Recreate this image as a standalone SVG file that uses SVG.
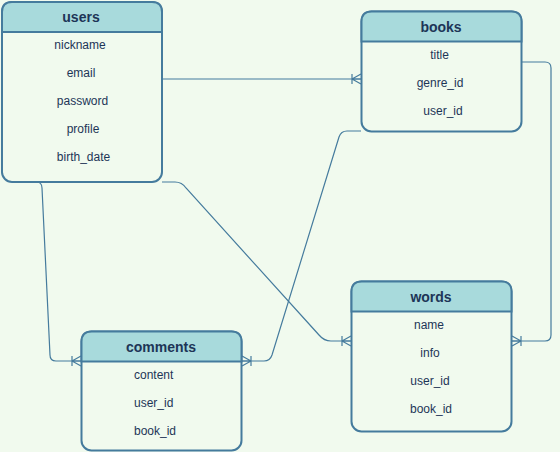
<svg xmlns="http://www.w3.org/2000/svg" width="560" height="452" viewBox="0 0 560 452">
<style>
.bg{fill:#F1FAEE}
.box{fill:#F1FAEE;stroke:#457B9D;stroke-width:2}
.hdr{fill:#A8DADC;stroke:#457B9D;stroke-width:2}
.t{font-family:"Liberation Sans",Arial,sans-serif;font-size:12px;fill:#1D3557}
.h{font-family:"Liberation Sans",Arial,sans-serif;font-size:14px;font-weight:bold;fill:#1D3557;text-anchor:middle}
.c{text-anchor:middle}
.e{fill:none;stroke:#457B9D;stroke-width:1.2}
</style>
<defs>
<marker id="many" markerUnits="userSpaceOnUse" markerWidth="14" markerHeight="14" refX="12" refY="7" orient="auto" viewBox="0 0 14 14">
<path d="M3 7 L12 2 M3 7 L12 12 M3 7 L12 7 M3 2 L3 12" fill="none" stroke="#457B9D" stroke-width="1.2"/>
</marker>
</defs>
<rect class="bg" x="0" y="0" width="560" height="452"/>
<g id="connectors">
<path class="e" d="M162 79 L361 79" marker-end="url(#many)"/>
<path class="e" d="M32 182 L36 182 Q42 182 42 188 L50 355 Q50 361 56 361 L81 361" marker-end="url(#many)"/>
<path class="e" d="M162 182 L175 182 Q182 182 186 188 L319 335 Q324 341 331 341 L351 341" marker-end="url(#many)"/>
<path class="e" d="M361 131 L347 131 Q341 131 339 137 L272 355 Q270 361 264 361 L242 361" marker-end="url(#many)"/>
<path class="e" d="M522 62 L545 62 Q551 62 551 68 L551 335 Q551 341 545 341 L512 341" marker-end="url(#many)"/>
</g>
<g id="users">
<rect class="box" x="2" y="2" width="160" height="180" rx="10"/>
<path class="hdr" d="M2 32 L2 12 Q2 2 12 2 L152 2 Q162 2 162 12 L162 32 Z"/>
<text class="h" x="81" y="22">users</text>
<text class="t c" x="80" y="49">nickname</text>
<text class="t c" x="81" y="77">email</text>
<text class="t c" x="82.5" y="105">password</text>
<text class="t c" x="83" y="133">profile</text>
<text class="t c" x="83.5" y="161">birth_date</text>
</g>
<g id="books">
<rect class="box" x="361.5" y="11.5" width="160" height="120" rx="10"/>
<path class="hdr" d="M361.5 41.5 L361.5 21.5 Q361.5 11.5 371.5 11.5 L511.5 11.5 Q521.5 11.5 521.5 21.5 L521.5 41.5 Z"/>
<text class="h" x="441" y="32">books</text>
<text class="t c" x="439.5" y="59">title</text>
<text class="t c" x="440" y="87">genre_id</text>
<text class="t c" x="443" y="115">user_id</text>
</g>
<g id="comments">
<rect class="box" x="81.5" y="331.5" width="160" height="119" rx="10"/>
<path class="hdr" d="M81.5 361.5 L81.5 341.5 Q81.5 331.5 91.5 331.5 L231.5 331.5 Q241.5 331.5 241.5 341.5 L241.5 361.5 Z"/>
<text class="h" x="161" y="352">comments</text>
<text class="t" x="134" y="379">content</text>
<text class="t" x="134" y="407">user_id</text>
<text class="t" x="134" y="435">book_id</text>
</g>
<g id="words">
<rect class="box" x="351.5" y="281.5" width="160" height="150" rx="10"/>
<path class="hdr" d="M351.5 311.5 L351.5 291.5 Q351.5 281.5 361.5 281.5 L501.5 281.5 Q511.5 281.5 511.5 291.5 L511.5 311.5 Z"/>
<text class="h" x="431" y="302">words</text>
<text class="t c" x="429" y="329">name</text>
<text class="t c" x="430" y="357">info</text>
<text class="t c" x="430" y="385">user_id</text>
<text class="t c" x="431" y="413">book_id</text>
</g>
</svg>
